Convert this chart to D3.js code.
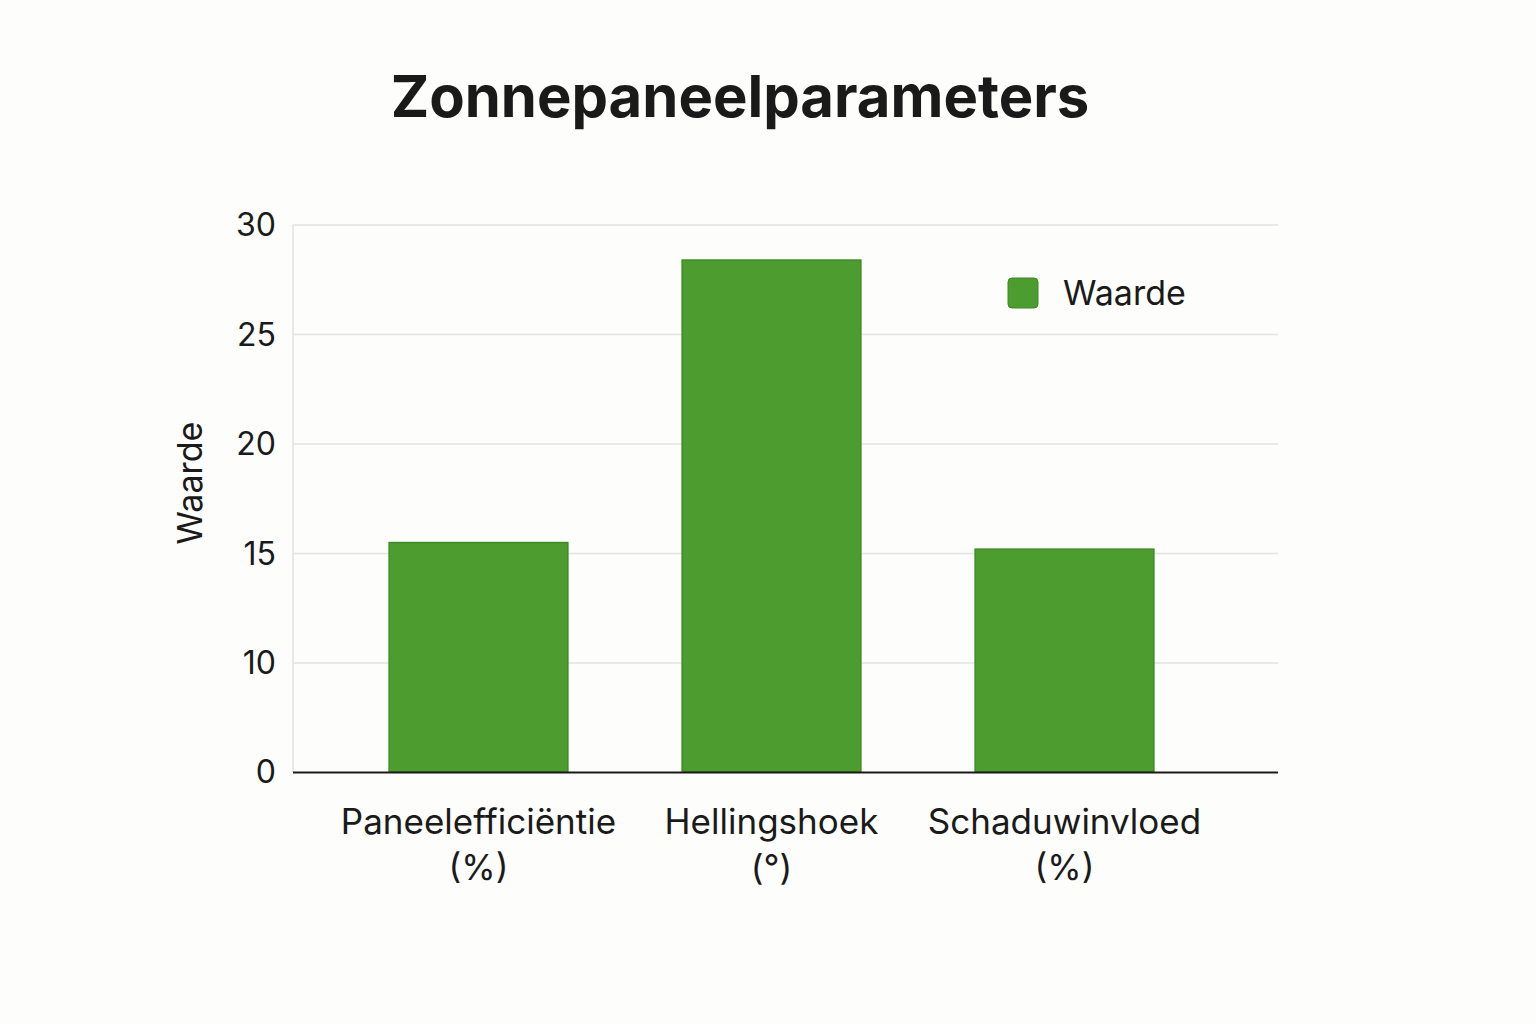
<!DOCTYPE html>
<html>
<head>
<meta charset="utf-8">
<script src="https://cdn.jsdelivr.net/npm/d3@7"></script>
<style>
  body { margin: 0; background: #fdfdfb; }
  text { font-family: Inter, "Noto Sans", sans-serif; fill: #1a1a1a; }
</style>
</head>
<body>
<div id="chart"></div>
<script>
// data
const categories = [['Paneelefficiëntie', '(%)'], ['Hellingshoek', '(°)'], ['Schaduwinvloed', '(%)']];
const values = [15.5, 28.4, 15.2];
const tickValues = [0, 10, 15, 20, 25, 30];

const width = 1536, height = 1024;

const svg = d3.select('#chart').append('svg')
    .attr('width', width)
    .attr('height', height);

svg.append('rect').attr('width', width).attr('height', height).attr('fill', '#fdfdfb');

// x band
const x = d3.scaleBand()
    .domain(categories.map(d => d[0]))
    .range([332, 1211])
    .paddingInner(0.39)
    .paddingOuter(0.195);

// y axis ticks are evenly spaced although 0->10 skips a step
const y = d3.scaleLinear().domain([0, 10, 30]).range([772, 663, 225]);

// gridlines
svg.append('g').selectAll('line')
    .data(tickValues.filter(d => d > 0))
    .enter().append('line')
    .attr('x1', 293).attr('x2', 1278)
    .attr('y1', d => y(d)).attr('y2', d => y(d))
    .attr('stroke', '#e2e2e2').attr('stroke-width', 1.5);

// left axis line
svg.append('line')
    .attr('x1', 293).attr('x2', 293).attr('y1', 225).attr('y2', 772)
    .attr('stroke', '#e2e2e2').attr('stroke-width', 1.5);

// tick labels
svg.append('g').selectAll('text')
    .data(tickValues)
    .enter().append('text')
    .attr('x', 276)
    .attr('y', d => y(d))
    .attr('dy', '0.35em')
    .attr('text-anchor', 'end')
    .style('font-size', '32px')
    .text(d => d);

// bars
svg.append('g').selectAll('rect')
    .data(values)
    .enter().append('rect')
    .attr('x', (d, i) => x(categories[i][0]))
    .attr('width', x.bandwidth())
    .attr('y', d => y(d))
    .attr('height', d => y(0) - y(d))
    .attr('fill', '#4d9c30')
    .attr('stroke', '#3f8a25')
    .attr('stroke-width', 1.5);

// baseline
svg.append('line')
    .attr('x1', 293).attr('x2', 1278).attr('y1', 772.5).attr('y2', 772.5)
    .attr('stroke', '#1a1a1a').attr('stroke-width', 2);

// category labels
const labels = svg.append('g').selectAll('text')
    .data(categories)
    .enter().append('text')
    .attr('x', d => x(d[0]) + x.bandwidth() / 2)
    .attr('y', 834)
    .attr('text-anchor', 'middle')
    .style('font-size', '35px');
labels.append('tspan').text(d => d[0]);
labels.append('tspan')
    .attr('x', d => x(d[0]) + x.bandwidth() / 2)
    .attr('dy', 46)
    .text(d => d[1]);

// y label
svg.append('text')
    .attr('transform', 'translate(202,483) rotate(-90)')
    .attr('text-anchor', 'middle')
    .style('font-size', '34px')
    .text('Waarde');

// title
svg.append('text')
    .attr('x', 740).attr('y', 117)
    .attr('text-anchor', 'middle')
    .style('font-size', '58px')
    .style('font-weight', 'bold')
    .text('Zonnepaneelparameters');

// legend
svg.append('rect')
    .attr('x', 1008).attr('y', 278).attr('width', 30).attr('height', 30)
    .attr('rx', 4)
    .attr('fill', '#4d9c30').attr('stroke', '#3f8a25');
svg.append('text')
    .attr('x', 1063).attr('y', 293).attr('dy', '0.35em')
    .style('font-size', '34px')
    .text('Waarde');
</script>
</body>
</html>
